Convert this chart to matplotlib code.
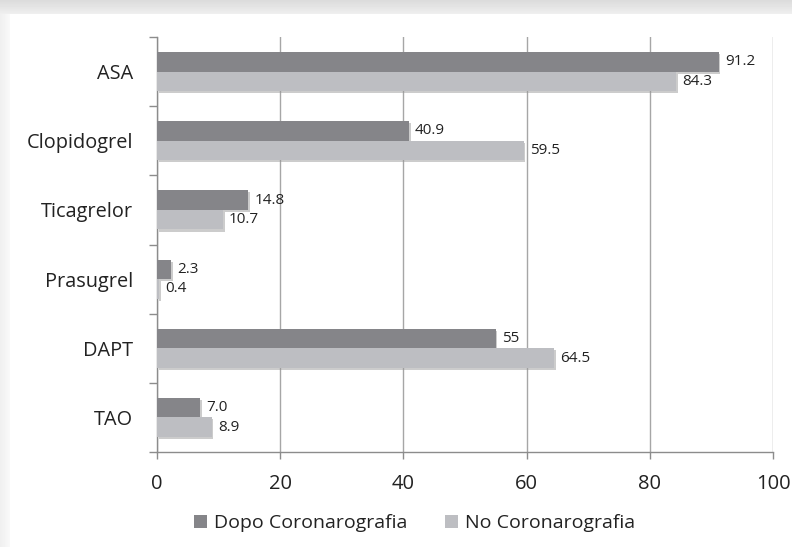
import numpy as np
import matplotlib
matplotlib.use("Agg")
import matplotlib.pyplot as plt
import matplotlib.patheffects as pe

categories = ["ASA", "Clopidogrel", "Ticagrelor", "Prasugrel", "DAPT", "TAO"]
dopo = [91.2, 40.9, 14.8, 2.3, 55, 7.0]
no_coro = [84.3, 59.5, 10.7, 0.4, 64.5, 8.9]
dopo_labels = ["91.2", "40.9", "14.8", "2.3", "55", "7.0"]
no_labels = ["84.3", "59.5", "10.7", "0.4", "64.5", "8.9"]
series_names = ["Dopo Coronarografia", "No Coronarografia"]
xticks = [0, 20, 40, 60, 80, 100]

plt.rcParams['font.family'] = ['Open Sans', 'DejaVu Sans']

W, H = 792, 547
fig = plt.figure(figsize=(W / 100, H / 100), dpi=100)

# background frame with soft shadow
bg = fig.add_axes([0, 0, 1, 1], zorder=-10)
yy, xx = np.mgrid[0:H, 0:W]
img = np.ones((H, W))
top = yy < 14
img[top] = 0.86 + 0.08 * (yy[top] / 14.0)
left = (xx < 10) & ~top
img[left] = 0.94 + 0.04 * (xx[left] / 10.0)
bg.imshow(img, cmap='gray', vmin=0, vmax=1, aspect='auto', extent=[0, W, H, 0])
bg.set_axis_off()

ax = fig.add_axes([157 / W, 1 - 452 / H, (773 - 157) / W, (452 - 37) / H])
ax.set_facecolor('none')

n = len(categories)
y = np.arange(n)
h = 0.283
dark = '#858589'
light = '#bdbec2'
shadow = [pe.SimplePatchShadow(offset=(1.2, -1.5), shadow_rgbFace='#9a9a9a', alpha=0.5), pe.Normal()]

b1 = ax.barh(y - h / 2, dopo, height=h, color=dark, zorder=3, label=series_names[0])
b2 = ax.barh(y + h / 2, no_coro, height=h, color=light, zorder=3, label=series_names[1])
for b in list(b1) + list(b2):
    b.set_path_effects(shadow)

for i in range(n):
    ax.text(dopo[i] + 1.0, y[i] - h / 2, dopo_labels[i], va='center', ha='left', fontsize=11, color='#222222', zorder=4)
    ax.text(no_coro[i] + 1.0, y[i] + h / 2, no_labels[i], va='center', ha='left', fontsize=11, color='#222222', zorder=4)

ax.set_xlim(0, 100)
ax.set_ylim(n - 0.5, -0.5)
ax.set_xticks(xticks)
ax.set_xticklabels([str(t) for t in xticks], fontsize=14.5, color='#222222')
ax.set_yticks(y)
ax.set_yticklabels(categories, fontsize=14.3, color='#222222')
ax.set_yticks(np.arange(n + 1) - 0.5, minor=True)
ax.tick_params(axis='y', which='major', length=0, pad=17)
ax.tick_params(axis='y', which='minor', length=6, color='#8c8c8c', width=1)
ax.tick_params(axis='x', which='major', length=5, color='#8c8c8c', width=1, pad=11)

ax.grid(axis='x', color='#a6a6a6', linewidth=1, zorder=0)
for s in ['top', 'right']:
    ax.spines[s].set_visible(False)
for s in ['left', 'bottom']:
    ax.spines[s].set_color('#8c8c8c')
    ax.spines[s].set_linewidth(1)
ax.set_axisbelow(True)

leg = fig.legend(handles=[b1, b2], labels=series_names, loc='center', bbox_to_anchor=(414.5 / W, 1 - 523 / H),
                 ncol=2, frameon=False, fontsize=14, handlelength=0.67, handleheight=0.67,
                 handletextpad=0.36, columnspacing=1.95, borderpad=0, borderaxespad=0)
for t in leg.get_texts():
    t.set_color('#222222')
for p in leg.legend_handles:
    p.set_path_effects([])

fig.savefig('out.png', dpi=100)
